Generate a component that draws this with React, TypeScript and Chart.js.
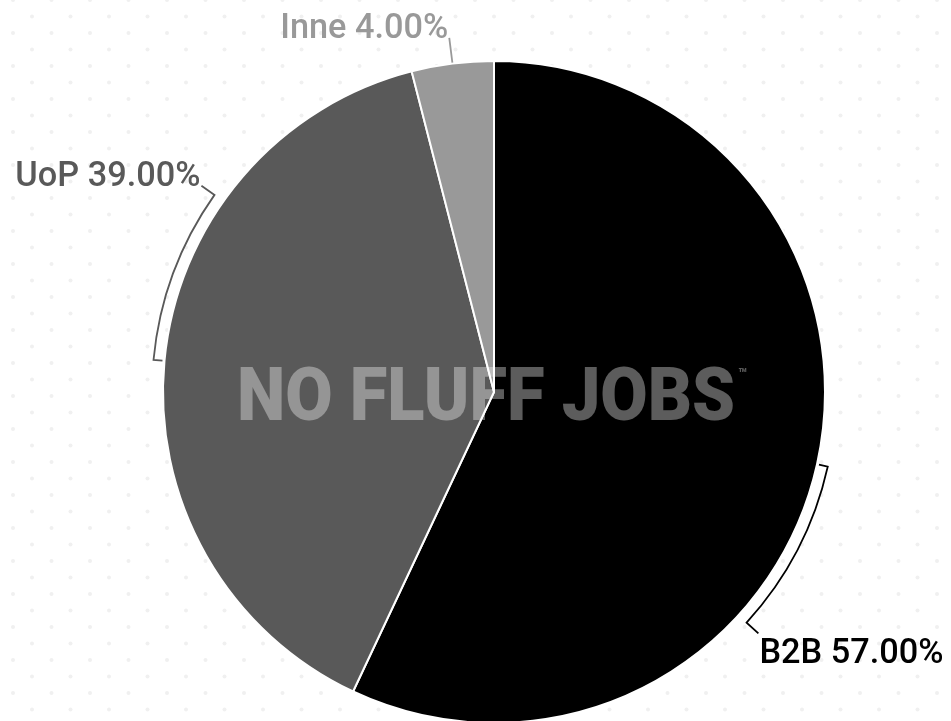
import React, { useEffect, useRef } from "react";
import { Chart, registerables } from "chart.js";

Chart.register(...registerables);

const categories = ["B2B", "UoP", "Inne"];
const values = [57, 39, 4];
const sliceColors = ["#000000", "#595959", "#999999"];
const labelColors = ["#000000", "#595959", "#999999"];
const watermarkText = "NO FLUFF JOBS";

export default function App() {
  const ref = useRef<HTMLCanvasElement>(null);

  useEffect(() => {
    document.body.style.margin = "0";
    const canvas = ref.current;
    if (!canvas) return;

    const bgPlugin = {
      id: "dotsBg",
      beforeDraw(chart: any) {
        const ctx = chart.ctx;
        ctx.save();
        ctx.fillStyle = "#ffffff";
        ctx.fillRect(0, 0, chart.width, chart.height);
        ctx.fillStyle = "#f0f0f0";
        let row = 0;
        for (let yy = 0; yy < chart.height; yy += 16.5, row++) {
          const off = row % 2 === 0 ? 13 : 32;
          for (let xx = off; xx < chart.width; xx += 38.5) {
            ctx.beginPath();
            ctx.arc(xx, yy, 2, 0, Math.PI * 2);
            ctx.fill();
          }
        }
        ctx.restore();
      },
    };

    const labelPlugin = {
      id: "calloutLabels",
      afterDatasetsDraw(chart: any) {
        const ctx = chart.ctx;
        const meta = chart.getDatasetMeta(0);
        const total = values.reduce((a, b) => a + b, 0);

        // watermark
        const first = meta.data[0];
        const cx = first.x;
        const cy = first.y;
        ctx.save();
        const fs = 74;
        ctx.font = `900 ${fs}px Roboto, Lato, "DejaVu Sans", sans-serif`;
        const w = ctx.measureText(watermarkText).width;
        const targetW = 498;
        const sx = targetW / w;
        ctx.fillStyle = "rgba(255,255,255,0.36)";
        ctx.textAlign = "left";
        ctx.textBaseline = "alphabetic";
        ctx.translate(cx - 257, cy + 28);
        ctx.scale(sx, 1);
        ctx.fillText(watermarkText, 0, 0);
        ctx.restore();
        ctx.save();
        ctx.fillStyle = "rgba(255,255,255,0.36)";
        ctx.font = `bold 15px Roboto, sans-serif`;
        ctx.textAlign = "left";
        ctx.textBaseline = "alphabetic";
        ctx.fillText("\u2122", cx + 244, cy - 13);
        ctx.restore();

        meta.data.forEach((arc: any, i: number) => {
          const { x, y, startAngle, endAngle, outerRadius } = arc.getProps(
            ["x", "y", "startAngle", "endAngle", "outerRadius"],
            true
          );
          const mid = (startAngle + endAngle) / 2;
          const span = endAngle - startAngle;
          let ex: number;
          let ey: number;
          ctx.save();
          ctx.strokeStyle = labelColors[i];
          ctx.lineWidth = 1.8;
          ctx.lineJoin = "miter";
          ctx.beginPath();
          if (span > 0.6) {
            const rb = outerRadius + 11;
            const a2 = mid + 0.52;
            ctx.moveTo(x + (outerRadius + 2) * Math.cos(mid), y + (outerRadius + 2) * Math.sin(mid));
            ctx.lineTo(x + rb * Math.cos(mid), y + rb * Math.sin(mid));
            ctx.arc(x, y, rb, mid, a2, false);
            const lr = rb + 16;
            ex = x + lr * Math.cos(a2);
            ey = y + lr * Math.sin(a2);
            ctx.lineTo(ex, ey);
          } else {
            const r0 = outerRadius + 1;
            const r1 = outerRadius + 26;
            ctx.moveTo(x + r0 * Math.cos(mid), y + r0 * Math.sin(mid));
            ex = x + r1 * Math.cos(mid);
            ey = y + r1 * Math.sin(mid);
            ctx.lineTo(ex, ey);
          }
          ctx.stroke();

          const pct = ((values[i] / total) * 100).toFixed(2) + "%";
          const text = `${categories[i]} ${pct}`;
          ctx.fillStyle = labelColors[i];
          ctx.font = `500 34.3px Roboto, "Noto Sans", sans-serif`;
          ctx.textBaseline = "alphabetic";
          const leftSide = ex < x;
          ctx.textAlign = leftSide ? "right" : "left";
          const tx = leftSide ? ex - 1 : ex + 1;
          const ty = ey < y ? ey : ey + 30;
          ctx.fillText(text, tx, ty);
          ctx.restore();
        });
      },
    };

    const chart = new Chart(canvas, {
      type: "pie",
      data: {
        labels: categories,
        datasets: [
          {
            data: values,
            backgroundColor: sliceColors,
            borderColor: "#ffffff",
            borderWidth: 2,
            radius: 331,
          } as any,
        ],
      },
      options: {
        responsive: false,
        animation: false,
        layout: { padding: { left: 37, top: 63, right: 0, bottom: 0 } },
        plugins: {
          legend: { display: false },
          tooltip: { enabled: false },
        },
      },
      plugins: [bgPlugin, labelPlugin],
    });

    return () => chart.destroy();
  }, []);

  return <canvas ref={ref} width={951} height={721} style={{ display: "block" }} />;
}
